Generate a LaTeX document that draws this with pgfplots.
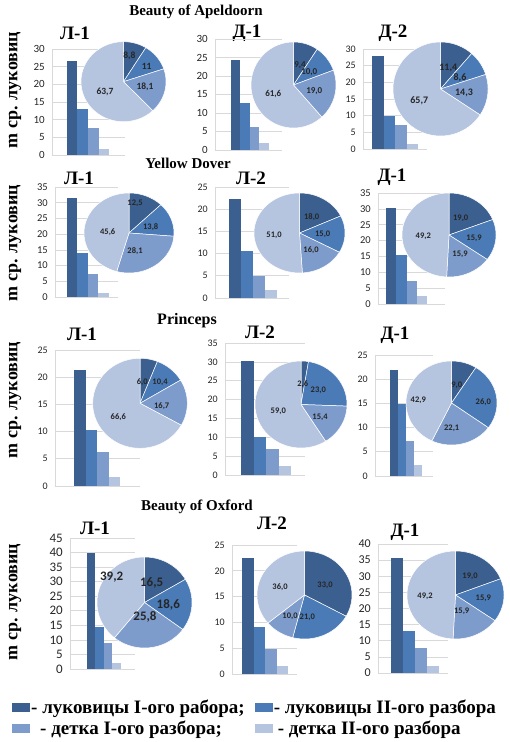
\documentclass[border=0pt]{standalone}
\usepackage{pgfplots}
\pgfplotsset{compat=1.18}
\usepackage{fontspec}
\setmainfont{Liberation Serif}
\newfontfamily\calib{Carlito}
\definecolor{c1}{HTML}{3B5F8E}
\definecolor{c2}{HTML}{4A7BB7}
\definecolor{c3}{HTML}{7E9CCB}
\definecolor{c4}{HTML}{B5C4DF}
\definecolor{gridc}{HTML}{D9D9D9}
\newcommand\fs[1]{\fontsize{#1}{#1}\selectfont}
\pgfkeys{/pgf/number format/assume math mode=true}

% frame of one bar panel: grid-left grid-right y(0) y(top) ymax bar-left bar-width fontsize (pixels)
\newcommand\barframe[8]{%
 \pgfmathsetmacro\bxmin{0.5-(#6-#1)/#7}%
 \pgfmathsetmacro\bxmax{4.5+(#2-#6-4*#7)/#7}%
 \pgfmathsetmacro\bw{#2-#1}%
 \pgfmathsetmacro\bh{#3-#4}%
 \pgfmathsetmacro\by{742-#3}%
 \def\bx{#1}\def\bymax{#5}\def\bfs{#8}}

\pgfplotsset{
 barax/.style={at={(\bx pt,\by pt)}, anchor=south west, scale only axis,
   width=\bw pt, height=\bh pt,
   xmin=\bxmin, xmax=\bxmax, ymin=0, ymax=\bymax, ytick distance=5, xtick=\empty,
   ymajorgrids, grid style={draw=gridc, line width=0.6pt},
   axis x line*=bottom, axis y line*=left,
   axis line style={draw=gridc, line width=0.6pt, -},
   major tick length=0pt,
   /pgf/number format/assume math mode=true,
   yticklabel={\pgfmathprintnumber[assume math mode=true]{\tick}},
   yticklabel style={font=\fs{\bfs}\calib, inner sep=0pt, text=black!85, xshift=-7pt}},
 b/.style={ybar, bar width=1, bar shift=0pt, draw=none, fill=#1},
 sl/.style={fill=#1, draw=white, line width=0.5pt, samples=60},
}

% pie: cx cy rx ry v1 v2 v3 v4 (pixels, percent)
\newcommand\pie[8]{%
 \pgfmathsetmacro\aA{90}%
 \pgfmathsetmacro\aB{90-3.6*#5}%
 \pgfmathsetmacro\aC{\aB-3.6*#6}%
 \pgfmathsetmacro\aD{\aC-3.6*#7}%
 \pgfmathsetmacro\aE{-270}%
 \pgfmathsetmacro\pw{2*#3}\pgfmathsetmacro\ph{2*#4}\pgfmathsetmacro\py{742-#2}%
 \begin{axis}[at={(#1 pt,\py pt)}, anchor=center, scale only axis, width=\pw pt, height=\ph pt,
   xmin=-1, xmax=1, ymin=-1, ymax=1, hide axis, clip=false]
  \addplot[sl=c1, domain=\aB:\aA] ({cos(x)},{sin(x)}) -- (axis cs:0,0) -- cycle;
  \addplot[sl=c2, domain=\aC:\aB] ({cos(x)},{sin(x)}) -- (axis cs:0,0) -- cycle;
  \addplot[sl=c3, domain=\aD:\aC] ({cos(x)},{sin(x)}) -- (axis cs:0,0) -- cycle;
  \addplot[sl=c4, domain=\aE:\aD] ({cos(x)},{sin(x)}) -- (axis cs:0,0) -- cycle;
 \end{axis}}
\newcommand\plfs{8.5}
\newcommand\plab[3]{\node[font=\fs{\plfs}\calib\bfseries, text=black!85, inner sep=0pt] at (#1,742-#2) {#3};}

\begin{document}
\begin{tikzpicture}[x=1pt,y=1pt]
\path[use as bounding box] (0,0) rectangle (509,742);

% ---------- titles and labels ----------
\begin{scope}[every node/.style={inner sep=0pt, font=\bfseries}]
\node[font=\fs{15}\bfseries] at (196,730) {Beauty of Apeldoorn};
\node[font=\fs{15}\bfseries] at (188,579) {Yellow Dover};
\node[font=\fs{16}\bfseries] at (187,421) {Princeps};
\node[font=\fs{15}\bfseries] at (197,235) {Beauty of Oxford};
\foreach \yy in {90,243,400,602}
  \node[font=\fs{18}\bfseries, rotate=90] at (15,742-\yy) {m ср. луковиц};
\node[font=\fs{19}\bfseries] at (75,709) {Л-1};
\node[font=\fs{19}\bfseries] at (247,709) {Д-1};
\node[font=\fs{19}\bfseries] at (393,709) {Д-2};
\node[font=\fs{19}\bfseries] at (79,564) {Л-1};
\node[font=\fs{19}\bfseries] at (251,564) {Л-2};
\node[font=\fs{19}\bfseries] at (392,565) {Д-1};
\node[font=\fs{19}\bfseries] at (82,408) {Л-1};
\node[font=\fs{19}\bfseries] at (260,410) {Л-2};
\node[font=\fs{19}\bfseries] at (395,407) {Д-1};
\node[font=\fs{19}\bfseries] at (95,214) {Л-1};
\node[font=\fs{19}\bfseries] at (272,219) {Л-2};
\node[font=\fs{19}\bfseries] at (405,210) {Д-1};
\end{scope}

% ================= Beauty of Apeldoorn =================
\barframe{52}{125}{155}{49}{30}{66.7}{10.6}{11}
\begin{axis}[barax]
\addplot[b=c1] coordinates {(1,26.7)};
\addplot[b=c2] coordinates {(2,13.0)};
\addplot[b=c3] coordinates {(3,7.6)};
\addplot[b=c4] coordinates {(4,1.7)};
\end{axis}
\pie{123.5}{81.7}{42.5}{40}{8.8}{11}{18.1}{63.7}
\renewcommand\plfs{9.5}
\plab{129.3}{56}{8,8}\plab{146.7}{66.7}{11}\plab{145}{87.3}{18,1}\plab{105}{91.7}{63,7}

\barframe{215}{282}{150}{39}{30}{230.7}{9.6}{11}
\begin{axis}[barax]
\addplot[b=c1] coordinates {(1,24.4)};
\addplot[b=c2] coordinates {(2,12.7)};
\addplot[b=c3] coordinates {(3,6.2)};
\addplot[b=c4] coordinates {(4,1.9)};
\end{axis}
\pie{293.5}{85}{42.5}{43}{9.4}{10.0}{19.0}{61.6}
\renewcommand\plfs{9}
\plab{300}{65}{9,4}\plab{309.3}{71.7}{10,0}\plab{314.3}{90.7}{19,0}\plab{273.3}{94.3}{61,6}

\barframe{363}{427}{149}{49}{30}{372}{11.5}{10}
\begin{axis}[barax]
\addplot[b=c1] coordinates {(1,27.9)};
\addplot[b=c2] coordinates {(2,9.9)};
\addplot[b=c3] coordinates {(3,7.2)};
\addplot[b=c4] coordinates {(4,1.5)};
\end{axis}
\pie{440.5}{89}{47.5}{47}{11.4}{8.6}{14.3}{65.7}
\renewcommand\plfs{10}
\plab{448.3}{68.3}{11,4}\plab{460}{77.3}{8,6}\plab{464}{93.3}{14,3}\plab{419.3}{101}{65,7}

% ================= Yellow Dover =================
\barframe{55}{118}{297}{187}{35}{67}{10.5}{10.5}
\begin{axis}[barax]
\addplot[b=c1] coordinates {(1,31.5)};
\addplot[b=c2] coordinates {(2,14.0)};
\addplot[b=c3] coordinates {(3,7.3)};
\addplot[b=c4] coordinates {(4,1.3)};
\end{axis}
\pie{129}{233}{45}{40}{12.5}{13.8}{28.1}{45.6}
\renewcommand\plfs{8.5}
\plab{135}{203.3}{12,5}\plab{150.7}{226.7}{13,8}\plab{135}{251}{28,1}\plab{107.7}{231.7}{45,6}

\barframe{215}{289}{298}{187}{25}{229}{12}{10}
\begin{axis}[barax]
\addplot[b=c1] coordinates {(1,22.3)};
\addplot[b=c2] coordinates {(2,10.6)};
\addplot[b=c3] coordinates {(3,5.0)};
\addplot[b=c4] coordinates {(4,1.8)};
\end{axis}
\pie{299.5}{233}{45.5}{40}{18.0}{15.0}{16.0}{51.0}
\plab{311.7}{217.3}{18,0}\plab{322.7}{234}{15,0}\plab{311}{250}{16,0}\plab{274}{235}{51,0}

\barframe{378}{445}{304}{193}{35}{386}{10.3}{10.5}
\begin{axis}[barax]
\addplot[b=c1] coordinates {(1,30.3)};
\addplot[b=c2] coordinates {(2,15.5)};
\addplot[b=c3] coordinates {(3,7.3)};
\addplot[b=c4] coordinates {(4,2.5)};
\end{axis}
\pie{449}{235}{47}{42}{19.0}{15.9}{15.9}{49.2}
\plab{460.7}{218.3}{19,0}\plab{474}{238.3}{15,9}\plab{460}{254}{15,9}\plab{423.3}{236}{49,2}

% ================= Princeps =================
\barframe{55}{140}{486}{350}{25}{74}{11.5}{10}
\begin{axis}[barax]
\addplot[b=c1] coordinates {(1,21.3)};
\addplot[b=c2] coordinates {(2,10.3)};
\addplot[b=c3] coordinates {(3,6.3)};
\addplot[b=c4] coordinates {(4,1.7)};
\end{axis}
\pie{140}{403.3}{47.3}{45}{6.0}{10.4}{16.7}{66.6}
\plab{142.3}{382.3}{6,0}\plab{160}{382.3}{10,4}\plab{161.7}{405.7}{16,7}\plab{118.3}{416.7}{66,6}

\barframe{225}{305}{475}{343}{35}{241}{12.5}{10}
\begin{axis}[barax]
\addplot[b=c1] coordinates {(1,30.2)};
\addplot[b=c2] coordinates {(2,10.1)};
\addplot[b=c3] coordinates {(3,6.9)};
\addplot[b=c4] coordinates {(4,2.4)};
\end{axis}
\pie{301}{404.5}{46}{43.5}{2.6}{23.0}{15.4}{59.0}
\plab{302.7}{384}{2,6}\plab{318.3}{390.7}{23,0}\plab{320}{417.3}{15,4}\plab{278.3}{411.7}{59,0}

\barframe{375}{433}{476}{355}{25}{390}{7.9}{10}
\begin{axis}[barax]
\addplot[b=c1] coordinates {(1,21.9)};
\addplot[b=c2] coordinates {(2,14.9)};
\addplot[b=c3] coordinates {(3,7.2)};
\addplot[b=c4] coordinates {(4,2.3)};
\end{axis}
\pie{451.5}{403}{45.5}{42}{9.0}{26.0}{22.1}{42.9}
\plab{456.7}{385}{9,0}\plab{483.3}{401.7}{26,0}\plab{451.7}{428.3}{22,1}\plab{418.3}{400}{42,9}

% ================= Beauty of Oxford =================
\barframe{70}{135}{669}{538}{45}{86.7}{8.5}{13}
\begin{axis}[barax]
\addplot[b=c1] coordinates {(1,40.0)};
\addplot[b=c2] coordinates {(2,14.3)};
\addplot[b=c3] coordinates {(3,9.1)};
\addplot[b=c4] coordinates {(4,2.2)};
\end{axis}
\pie{144.5}{602.5}{47.5}{45.5}{16.5}{18.6}{25.8}{39.2}
\renewcommand\plfs{13}
\plab{151.7}{583.3}{16,5}\plab{168.3}{605}{18,6}\plab{145}{616.7}{25,8}\plab{111.7}{576.7}{39,2}

\barframe{232}{297}{674}{545}{25}{242}{11.5}{10}
\begin{axis}[barax]
\addplot[b=c1] coordinates {(1,22.5)};
\addplot[b=c2] coordinates {(2,9.1)};
\addplot[b=c3] coordinates {(3,4.8)};
\addplot[b=c4] coordinates {(4,1.6)};
\end{axis}
\pie{304.5}{595}{47.5}{44}{33.0}{21.0}{10.0}{36.0}
\renewcommand\plfs{8.5}
\plab{325}{585}{33,0}\plab{307.3}{617.3}{21,0}\plab{290}{616.7}{10,0}\plab{280}{587.3}{36,0}

\barframe{378}{448}{673}{544}{40}{391}{12}{12}
\begin{axis}[barax]
\addplot[b=c1] coordinates {(1,35.7)};
\addplot[b=c2] coordinates {(2,13.0)};
\addplot[b=c3] coordinates {(3,7.8)};
\addplot[b=c4] coordinates {(4,2.3)};
\end{axis}
\pie{455.5}{595}{48.5}{44}{19.0}{15.9}{15.9}{49.2}
\plab{470}{576.7}{19,0}\plab{483.3}{598.3}{15,9}\plab{461.7}{611.7}{15,9}\plab{425}{596.7}{49,2}

% ================= legend =================
\begin{axis}[at={(0pt,0pt)}, anchor=south west, scale only axis, width=509pt, height=742pt,
  xmin=0, xmax=1, ymin=0, ymax=1, hide axis,
  legend columns=2, legend cell align=left,
  legend image code/.code={\fill[#1] (0pt,-4pt) rectangle (18pt,5pt);},
  legend style={at={(0.0236,0.058)}, anchor=north west, draw=none, fill=none,
    font=\fs{19}\bfseries, inner sep=0pt, row sep=4pt,
    nodes={inner sep=1pt},
    /tikz/every even column/.append style={column sep=9pt}}]
\addlegendimage{fill=c1, draw=none}\addlegendentry{- луковицы I-ого рабора;}
\addlegendimage{fill=c2, draw=none}\addlegendentry{- луковицы II-ого разбора}
\addlegendimage{fill=c3, draw=none}\addlegendentry{\hspace{9pt}- детка I-ого разбора;}
\addlegendimage{fill=c4, draw=none}\addlegendentry{\hspace{4pt}- детка II-ого разбора}
\end{axis}
\end{tikzpicture}
\end{document}
